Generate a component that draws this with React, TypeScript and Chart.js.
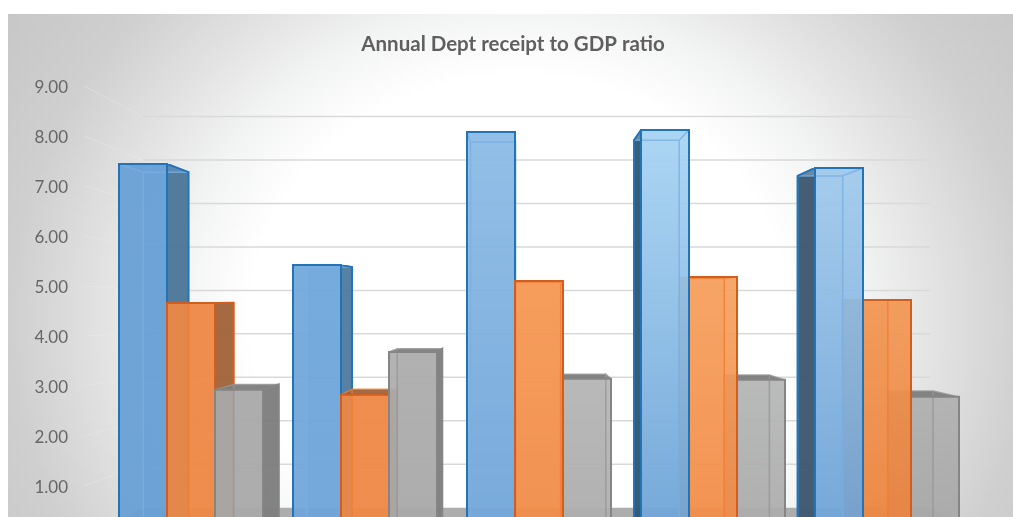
import React, { useEffect, useRef } from "react";
import { Chart, registerables } from "chart.js";

Chart.register(...registerables);

const categories = ["1", "2", "3", "4", "5"];
const seriesA = [7.48, 5.46, 8.12, 8.16, 7.4];
const seriesB = [4.7, 2.86, 5.14, 5.22, 4.76];
const seriesC = [2.96, 3.72, 3.18, 3.16, 2.82];

// face colours per group: [top, bottom, side]
const blueFaces = [
  ["#679fd5", "#679fd5", "#4d7698"],
  ["#6fa7db", "#6fa4d9", "#4f7a9f"],
  ["#8dbce6", "#72a6d9", "#4f7a9f"],
  ["#a8d4f3", "#71a6d8", "#2f5573"],
  ["#a1caec", "#71a5d8", "#3d566d"],
];
const orangeFaces = [
  ["#ee8845", "#ee8845", "#a1643b"],
  ["#ee8845", "#ee8845", "#a1643b"],
  ["#f69955", "#f08d49", "#a1643b"],
  ["#f6a160", "#f28e4a", "#c8763b"],
  ["#f29753", "#ed8642", "#c46e32"],
];
const grayFaces = [
  ["#a9a9a9", "#a9a9a9", "#7d7d7d"],
  ["#adadad", "#a9a9a9", "#7d7d7d"],
  ["#b5b5b5", "#aeaeae", "#7d7d7d"],
  ["#b5b6b6", "#acacac", "#7d7d7d"],
  ["#b0b0b0", "#a8a8a8", "#7d7d7d"],
];
const edgeColors = ["#2273b8", "#cf5e1f", "#858585"];
const innerColors = ["rgba(120,175,225,0.8)", "rgba(240,125,50,0.8)", "rgba(150,150,150,0.8)"];

const VX = 525;
const VY = 300;
const R = 0.94;
const WALL_VY = 307;
const WALL_R = 0.87;
const WALL_LEFT_FRONT = 84;
const WALL_LEFT_BACK = 143;
const WALL_RIGHT_BACK = 930;

const px = (x: number) => VX + R * (x - VX);
const py = (y: number) => VY + R * (y - VY);
const wy = (y: number) => WALL_VY + WALL_R * (y - WALL_VY);

function poly(ctx: CanvasRenderingContext2D, pts: number[][], fill?: any, stroke?: string, lw = 1) {
  ctx.beginPath();
  pts.forEach((p, i) => (i ? ctx.lineTo(p[0], p[1]) : ctx.moveTo(p[0], p[1])));
  ctx.closePath();
  if (fill) {
    ctx.fillStyle = fill;
    ctx.fill();
  }
  if (stroke) {
    ctx.strokeStyle = stroke;
    ctx.lineWidth = lw;
    ctx.stroke();
  }
}

const scenePlugin = {
  id: "scene",
  afterLayout(chart: any) {
    // let the tick labels use the space left of the axis box
    chart.scales.y.left = 0;
  },
  beforeDraw(chart: any) {
    const ctx: CanvasRenderingContext2D = chart.ctx;
    const left = 8, top = 14, right = 1013, bottom = chart.height;
    ctx.save();
    ctx.fillStyle = "#ffffff";
    ctx.fillRect(0, 0, chart.width, chart.height);
    ctx.beginPath();
    ctx.rect(left, top, right - left, bottom - top);
    ctx.clip();
    ctx.translate(520, 320);
    ctx.scale(1, 1 / 1.1);
    const g = ctx.createRadialGradient(0, 0, 0, 0, 0, 640);
    g.addColorStop(0, "#ffffff");
    g.addColorStop(270 / 640, "#ffffff");
    g.addColorStop(340 / 640, "#f3f4f4");
    g.addColorStop(420 / 640, "#e2e2e2");
    g.addColorStop(510 / 640, "#cfcfcf");
    g.addColorStop(1, "#c4c5c4");
    ctx.fillStyle = g;
    ctx.fillRect(-800, -800, 1600, 1600);
    ctx.restore();
  },
  beforeDatasetsDraw(chart: any) {
    const ctx: CanvasRenderingContext2D = chart.ctx;
    const yScale = chart.scales.y;
    const y0 = yScale.getPixelForValue(0);
    const backY0 = wy(y0);

    ctx.save();
    // floor
    const rightFront = 991;
    poly(ctx, [
      [WALL_LEFT_BACK, backY0],
      [WALL_RIGHT_BACK, backY0],
      [rightFront, y0],
      [WALL_LEFT_FRONT, y0],
    ], "#adadad");

    // wall grid lines
    yScale.ticks.forEach((t: any) => {
      if (t.value === 0) return;
      const yf = yScale.getPixelForValue(t.value);
      const yb = wy(yf);
      ctx.lineWidth = 1;
      ctx.strokeStyle = "rgba(236,236,236,0.4)";
      ctx.beginPath();
      ctx.moveTo(WALL_LEFT_FRONT, yf - 2);
      ctx.lineTo(WALL_LEFT_BACK, yb);
      ctx.stroke();
      ctx.lineWidth = 1.5;
      ctx.strokeStyle = "#d9d9d9";
      ctx.beginPath();
      ctx.moveTo(WALL_LEFT_BACK, yb);
      ctx.lineTo(WALL_RIGHT_BACK, yb);
      ctx.stroke();
    });

    // bars, farthest from the vanishing point first
    const bars: any[] = [];
    chart.data.datasets.forEach((_: any, si: number) => {
      chart.getDatasetMeta(si).data.forEach((el: any, gi: number) => {
        bars.push({ el, si, gi });
      });
    });
    bars.sort((a, b) => Math.abs(b.el.x - VX) - Math.abs(a.el.x - VX));

    const faces = [blueFaces, orangeFaces, grayFaces];
    bars.forEach(({ el, si, gi }) => {
      const x1 = el.x - el.width / 2;
      const x2 = el.x + el.width / 2;
      const yt = el.y;
      const bx1 = px(x1), bx2 = px(x2), byt = py(yt), by0 = py(y0);
      const [cTop, cBottom, cSide] = faces[si][gi];
      const edge = edgeColors[si];
      const inner = innerColors[si];

      const grad = ctx.createLinearGradient(0, yt, 0, 517);
      grad.addColorStop(0, cTop);
      grad.addColorStop(1, cBottom);

      // back face and hidden interior faces
      ctx.globalAlpha = 0.35;
      poly(ctx, [[bx1, byt], [bx2, byt], [bx2, by0], [bx1, by0]], grad);
      ctx.globalAlpha = 1;

      // visible side face
      const onLeft = el.x < VX;
      const sx = onLeft ? x2 : x1;
      const sb = onLeft ? bx2 : bx1;
      if (Math.abs(sx - sb) > 1) {
        ctx.globalAlpha = 0.95;
        poly(ctx, [[sx, yt], [sb, byt], [sb, by0], [sx, y0]], cSide);
        ctx.globalAlpha = 1;
      }

      // top face
      ctx.globalAlpha = byt < yt ? 0.95 : 0.4;
      poly(ctx, [[x1, yt], [x2, yt], [bx2, byt], [bx1, byt]], byt < yt ? cSide : cTop);
      ctx.globalAlpha = 1;

      // front face
      ctx.globalAlpha = 0.93;
      poly(ctx, [[x1, yt], [x2, yt], [x2, y0], [x1, y0]], grad);
      ctx.globalAlpha = 1;

      // interior edges seen through the front face
      ctx.lineWidth = 1.5;
      ctx.strokeStyle = inner;
      ctx.beginPath();
      ctx.moveTo(x1, yt); ctx.lineTo(bx1, byt); ctx.lineTo(bx1, by0);
      ctx.moveTo(x2, yt); ctx.lineTo(bx2, byt); ctx.lineTo(bx2, by0);
      ctx.moveTo(bx1, byt); ctx.lineTo(bx2, byt);
      ctx.stroke();

      // outer edges
      ctx.lineWidth = 2;
      ctx.strokeStyle = edge;
      ctx.beginPath();
      ctx.rect(x1, yt, x2 - x1, y0 - yt);
      if (Math.abs(sx - sb) > 1) {
        ctx.moveTo(sx, yt); ctx.lineTo(sb, byt); ctx.lineTo(sb, by0);
      }
      ctx.stroke();
    });
    ctx.restore();
    return false;
  },
};

export default function App() {
  const ref = useRef<HTMLCanvasElement>(null);
  useEffect(() => {
    const chart = new Chart(ref.current!, {
      type: "bar",
      data: {
        labels: categories,
        datasets: [
          { label: "Series 1", data: seriesA, backgroundColor: "#5b9bd5" },
          { label: "Series 2", data: seriesB, backgroundColor: "#ed7d31" },
          { label: "Series 3", data: seriesC, backgroundColor: "#a5a5a5" },
        ],
      },
      plugins: [scenePlugin],
      options: {
        responsive: false,
        maintainAspectRatio: false,
        animation: false,
        devicePixelRatio: 1,
        layout: { padding: { left: 52, top: 0, right: 52, bottom: 22 } },
        datasets: { bar: { categoryPercentage: 144 / 174, barPercentage: 1 } },
        plugins: {
          legend: { display: false },
          tooltip: { enabled: false },
          title: {
            display: true,
            text: "Annual Dept receipt to GDP ratio",
            color: "#5f5f5f",
            font: { family: "Lato", size: 20.5, weight: "bold", lineHeight: 1 },
            padding: { top: 34, bottom: 33.5 },
          },
        },
        scales: {
          x: { display: false, grid: { display: false } },
          y: {
            min: 0,
            max: 9,
            afterFit(axis: any) {
              axis.width = 52;
            },
            border: { display: false },
            grid: { display: false },
            ticks: {
              stepSize: 1,
              padding: 28,
              color: "#666666",
              font: { family: "Lato", size: 17 },
              callback: (v: any) => Number(v).toFixed(2),
            },
          },
        },
      } as any,
    });
    return () => chart.destroy();
  }, []);
  return (
    <div style={{ position: "fixed", left: 0, top: 0, width: 1013, height: 517, overflow: "hidden", background: "#fff" }}>
      <div style={{ width: 1026, height: 576 }}>
        <canvas ref={ref} width={1026} height={576} style={{ display: "block" }} />
      </div>
    </div>
  );
}
